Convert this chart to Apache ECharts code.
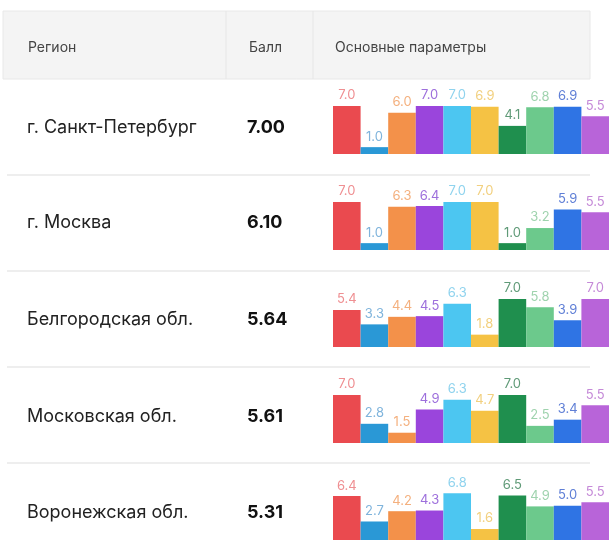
<!DOCTYPE html>
<html><head><meta charset="utf-8">
<script src="https://cdn.jsdelivr.net/npm/echarts@6/dist/echarts.min.js"></script>
<style>html,body{margin:0;padding:0;background:#fff}#c{width:614px;height:553px}</style>
</head><body><div id="c"></div>
<script>
const headers = ['Регион', 'Балл', 'Основные параметры'];
const regions = ['г. Санкт-Петербург', 'г. Москва', 'Белгородская обл.', 'Московская обл.', 'Воронежская обл.'];
const scores = ['7.00', '6.10', '5.64', '5.61', '5.31'];
const params = ['p1','p2','p3','p4','p5','p6','p7','p8','p9','p10'];
const spb = [7.0, 1.0, 6.0, 7.0, 7.0, 6.9, 4.1, 6.8, 6.9, 5.5];
const msk = [7.0, 1.0, 6.3, 6.4, 7.0, 7.0, 1.0, 3.2, 5.9, 5.5];
const belg = [5.4, 3.3, 4.4, 4.5, 6.3, 1.8, 7.0, 5.8, 3.9, 7.0];
const mobl = [7.0, 2.8, 1.5, 4.9, 6.3, 4.7, 7.0, 2.5, 3.4, 5.5];
const vor = [6.4, 2.7, 4.2, 4.3, 6.8, 1.6, 6.5, 4.9, 5.0, 5.5];
const rows = [spb, msk, belg, mobl, vor];

const barColors = ['#ea4a4f','#2a98d6','#f3914a','#9a45dc','#4cc6f1','#f5c244','#1f8f4e','#6cc98c','#2f74e4','#b864d9'];
const labelColors = ['#ef8f92','#7fb4dc','#f4b07e','#9d6fdc','#8fd3ee','#f2d07f','#5f9a77','#9fd3ae','#5f7fd6','#c58ad8'];

const baselines = [154, 250, 347, 443, 540];
const centers = [128, 223, 320, 417, 513];
const sepY = [175, 271, 367, 463];
const barH = 48;

const grids = [], xAxes = [], yAxes = [], series = [];
rows.forEach((vals, i) => {
  grids.push({left: 333, width: 276, top: baselines[i] - barH, height: barH});
  xAxes.push({type: 'category', gridIndex: i, data: params, show: false});
  yAxes.push({type: 'value', gridIndex: i, min: 0, max: 7, show: false});
  series.push({
    type: 'bar', xAxisIndex: i, yAxisIndex: i, barCategoryGap: '0%', animation: false,
    data: vals.map((v, j) => ({
      value: v,
      itemStyle: {color: barColors[j]},
      label: {color: labelColors[j]}
    })),
    label: {show: true, position: 'top', distance: 4, fontSize: 13, fontFamily: 'Inter, sans-serif',
      formatter: p => p.value.toFixed(1)}
  });
});

const graphic = [];
graphic.push({type: 'rect', shape: {x: 3, y: 11, width: 587, height: 68}, style: {fill: '#f4f4f4', stroke: '#e8e8e8', lineWidth: 1}, silent: true});
[226, 313].forEach(x => graphic.push({type: 'line', shape: {x1: x, y1: 11, x2: x, y2: 79}, style: {stroke: '#e6e6e6', lineWidth: 1}}));
const hx = [28, 249, 335];
headers.forEach((h, i) => graphic.push({type: 'text', x: hx[i], y: 48, style: {text: h, fill: '#444', fontSize: 14, fontFamily: 'Inter, sans-serif', textVerticalAlign: 'middle'}}));
sepY.forEach(y => graphic.push({type: 'line', shape: {x1: 7, y1: y, x2: 590, y2: y}, style: {stroke: '#e8e8e8', lineWidth: 1.5}}));
regions.forEach((r, i) => {
  graphic.push({type: 'text', x: 27, y: centers[i], style: {text: r, fill: '#222', fontSize: 18, fontFamily: 'Inter, sans-serif', textVerticalAlign: 'middle'}});
  graphic.push({type: 'text', x: 247, y: centers[i], style: {text: scores[i], fill: '#111', fontSize: 18, fontWeight: 'bold', fontFamily: 'Inter, sans-serif', textVerticalAlign: 'middle'}});
});

const chart = echarts.init(document.getElementById('c'));
chart.setOption({animation: false, grid: grids, xAxis: xAxes, yAxis: yAxes, series: series, graphic: graphic});
</script></body></html>
